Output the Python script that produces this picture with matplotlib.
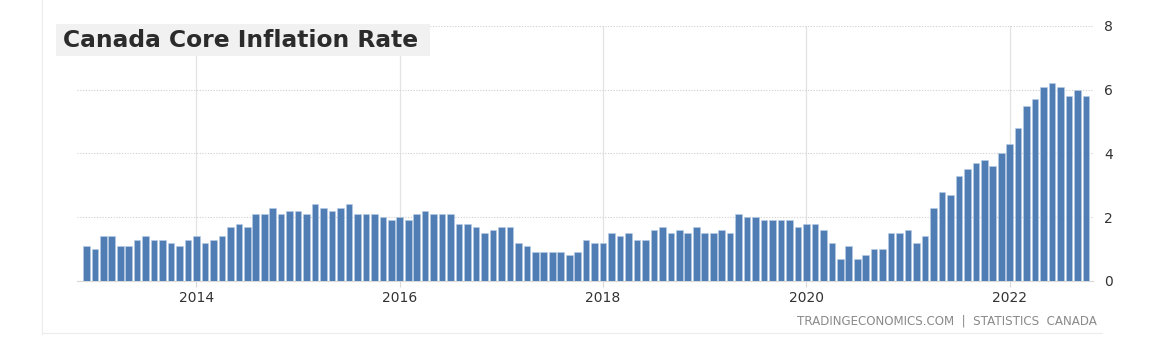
import matplotlib.pyplot as plt
import numpy as np
from matplotlib.lines import Line2D
from matplotlib.patches import Rectangle

# monthly core inflation, Dec 2012 .. Oct 2022
values = [1.1, 1.0, 1.4, 1.4, 1.1, 1.1, 1.3, 1.4, 1.3, 1.3, 1.2, 1.1, 1.3, 1.4, 1.2, 1.3, 1.4,
          1.7, 1.8, 1.7, 2.1, 2.1, 2.3, 2.1, 2.2, 2.2, 2.1, 2.4, 2.3, 2.2, 2.3, 2.4, 2.1, 2.1,
          2.1, 2.0, 1.9, 2.0, 1.9, 2.1, 2.2, 2.1, 2.1, 2.1, 1.8, 1.8, 1.7, 1.5, 1.6, 1.7, 1.7,
          1.2, 1.1, 0.9, 0.9, 0.9, 0.9, 0.8, 0.9, 1.3, 1.2, 1.2, 1.5, 1.4, 1.5, 1.3, 1.3, 1.6,
          1.7, 1.5, 1.6, 1.5, 1.7, 1.5, 1.5, 1.6, 1.5, 2.1, 2.0, 2.0, 1.9, 1.9, 1.9, 1.9, 1.7,
          1.8, 1.8, 1.6, 1.2, 0.7, 1.1, 0.7, 0.8, 1.0, 1.0, 1.5, 1.5, 1.6, 1.2, 1.4,
          2.3, 2.8, 2.7, 3.3, 3.5, 3.7, 3.8, 3.6, 4.0, 4.3, 4.8, 5.5, 5.7, 6.1, 6.2, 6.1, 5.8,
          6.0, 5.8]
start_year, start_month = 2012, 12
year_labels = ["2014", "2016", "2018", "2020", "2022"]
y_ticks = [0, 2, 4, 6, 8]

x = np.arange(len(values))
tick_pos = [(int(y) - start_year) * 12 + (1 - start_month) for y in year_labels]

fig = plt.figure(figsize=(11.6, 3.46), dpi=100)
ax = fig.add_axes([0.0664, 0.188, 0.8756, 0.7369])

ax.bar(x, values, width=0.78, color='#4f7db4', edgecolor='#b9cde4', linewidth=0.4, zorder=3)

ax.set_xlim(-1.1, 118.8)
ax.set_ylim(0, 8)
ax.set_xticks(tick_pos)
ax.set_xticklabels(year_labels)
ax.set_yticks(y_ticks)
ax.yaxis.tick_right()

for s in ['top', 'left', 'right']:
    ax.spines[s].set_visible(False)
ax.spines['bottom'].set_color('#d8d8d8')
ax.tick_params(axis='x', length=4, color='#d8d8d8', labelsize=10, labelcolor='#333333', pad=3)
ax.tick_params(axis='y', length=0, labelsize=10, labelcolor='#333333', pad=8)

ax.grid(axis='y', linestyle=(0, (1, 1.5)), color='#cfcfcf', linewidth=0.8, zorder=0)
ax.grid(axis='x', linestyle='-', color='#e3e3e3', linewidth=0.9, zorder=0)
ax.set_axisbelow(True)

# title box
fig.add_artist(Rectangle((0.0483, 0.838), 0.3224, 0.093, transform=fig.transFigure,
                         facecolor='#f1f1f1', edgecolor='none', zorder=5))
fig.text(0.0545, 0.884, "Canada Core Inflation Rate", fontsize=16.8, fontweight='bold',
         color='#2b2b2b', family='DejaVu Sans', va='center', ha='left', zorder=6)

fig.text(0.946, 0.072, "TRADINGECONOMICS.COM  |  STATISTICS  CANADA", fontsize=8.6,
         color='#8a8a8a', ha='right', va='center')

# faint frame lines
fig.add_artist(Line2D([0.036, 0.036], [0.035, 1.0], color='#ececec', linewidth=0.8))
fig.add_artist(Line2D([0.036, 0.95], [0.037, 0.037], color='#ececec', linewidth=0.8))

fig.savefig('out.png', dpi=100)
